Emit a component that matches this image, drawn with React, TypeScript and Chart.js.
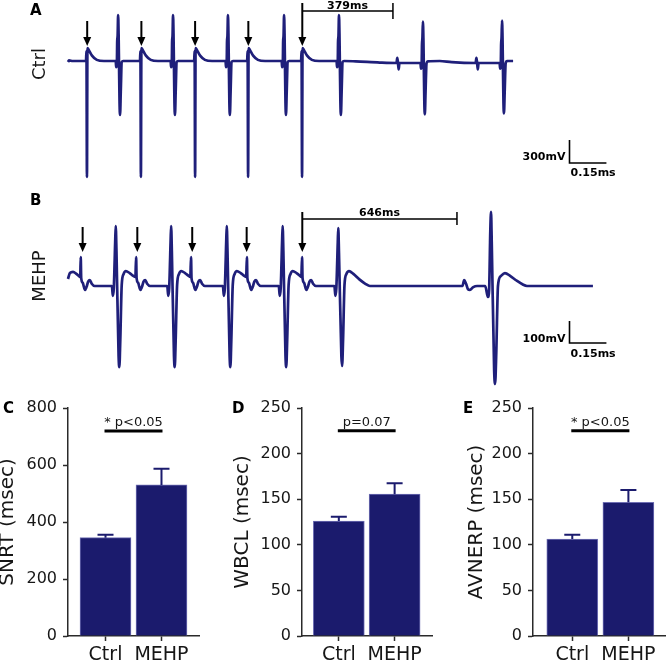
import React, { useEffect, useRef } from 'react';
import { Chart, registerables } from 'chart.js';

Chart.register(...registerables);

type Pt = [number, number];

// ---------- Electrogram traces (time in ms, voltage in mV) ----------
const CTRL_TRACE: Pt[] = [
  [0, -13], [4, 8], [20, 0], [75, 0], [77, 130], [79, -1508], [81, 169], [87, 140], [100, 70], [120, 15], [150, 0],
  [199, 0], [201, -80], [204, -10], [205, 240], [207, 330], [209, 598], [211, 350], [215, -550], [217, -702], [220, -400], [224, -13], [230, 0],
  [300, 0], [302, 130], [304, -1508], [306, 169], [312, 140], [325, 70], [345, 15], [375, 0],
  [428, 0], [430, -80], [433, -10], [434, 240], [436, 330], [438, 598], [440, 350], [444, -550], [446, -702], [449, -400], [453, -13], [459, 0],
  [526, 0], [528, 130], [530, -1508], [532, 169], [538, 140], [551, 70], [571, 15], [601, 0],
  [657, 0], [659, -80], [662, -10], [663, 240], [665, 330], [667, 598], [669, 350], [673, -550], [675, -702], [678, -400], [682, -13], [688, 0],
  [747, 0], [749, 130], [751, -1508], [753, 169], [759, 140], [772, 70], [792, 15], [822, 0],
  [891, 0], [893, -80], [896, -10], [897, 240], [899, 330], [901, 598], [903, 350], [907, -550], [909, -702], [912, -400], [916, -13], [922, 0],
  [972, 0], [974, 130], [976, -1508], [978, 169], [984, 140], [997, 70], [1017, 15], [1047, 0],
  [1120, 0], [1122, -80], [1125, -10], [1126, 240], [1128, 330], [1130, 598], [1132, 350], [1136, -550], [1138, -702], [1141, -400], [1145, -13], [1151, 0],
  [1200, -5], [1300, -20], [1370, -26], [1373, 40], [1376, -26], [1379, -110], [1382, -26], [1460, -26],
  [1470, -26], [1472, -100], [1475, -30], [1476, 200], [1478, 300], [1480, 511], [1482, 300], [1486, -550], [1488, -693], [1491, -400], [1495, -30], [1501, -5], [1550, 0],
  [1600, -15], [1700, -26], [1703, 40], [1706, -26], [1709, -110], [1712, -26], [1790, -26],
  [1800, -26], [1802, -100], [1805, -30], [1806, 200], [1808, 300], [1810, 524], [1812, 300], [1816, -550], [1818, -680], [1821, -400], [1825, -30], [1831, 0], [1856, 0],
];

const MEHP_TRACE: Pt[] = [
  [0, 32], [8, 59], [21, 64], [35, 55], [48, 43],
  [51, 41], [53, 132], [55, 36], [61, 15], [71, -18], [77, -5], [84, 20], [91, 27], [99, 10], [111, 0],
  [183, 0], [187, -45], [191, -9], [197, 210], [199, 273], [202, 160], [211, -320], [214, -369], [218, -245], [224, 5], [232, 55], [241, 68], [257, 59], [272, 46], [281, 41],
  [284, 132], [286, 36], [292, 15], [302, -18], [308, -5], [315, 20], [322, 27], [330, 10], [342, 0],
  [414, 0], [418, -45], [422, -9], [428, 210], [430, 273], [433, 160], [442, -320], [445, -369], [449, -245], [455, 5], [463, 55], [472, 68], [488, 59], [503, 46], [510, 41],
  [513, 132], [515, 36], [521, 15], [531, -18], [537, -5], [544, 20], [551, 27], [559, 10], [571, 0],
  [646, 0], [650, -45], [654, -9], [660, 210], [662, 273], [665, 160], [674, -320], [677, -369], [681, -245], [687, 5], [695, 55], [704, 68], [720, 59], [735, 46], [743, 41],
  [746, 132], [748, 36], [754, 15], [764, -18], [770, -5], [777, 20], [784, 27], [792, 10], [804, 0],
  [879, 0], [883, -45], [887, -9], [893, 210], [895, 273], [898, 160], [907, -320], [910, -369], [914, -245], [920, 5], [928, 55], [937, 68], [953, 59], [968, 46], [973, 41],
  [976, 132], [978, 36], [984, 15], [994, -18], [1000, -5], [1007, 20], [1014, 27], [1022, 10], [1034, 0],
  [1111, 0], [1115, -45], [1119, -9], [1125, 200], [1127, 264], [1130, 150], [1140, -320], [1143, -364], [1147, -245], [1153, 5], [1161, 55], [1172, 68], [1190, 55], [1215, 30], [1240, 10], [1259, 0],
  [1400, 0], [1550, 0],
  [1645, 0], [1652, 27], [1660, 10], [1668, -15], [1676, -18], [1690, -5], [1706, 0],
  [1740, 0], [1751, -50], [1756, -20], [1761, 250], [1764, 337], [1767, 200], [1777, -380], [1781, -446], [1786, -300], [1793, 0], [1805, 45], [1822, 59], [1845, 45], [1870, 25], [1895, 8], [1914, 0],
  [2189, 0],
];

const CTRL_STIM_ARROWS = [80, 306, 530, 752, 977];
const MEHP_STIM_ARROWS = [61, 289, 518, 745, 977];
const CTRL_INTERVAL = [976, 1355];
const MEHP_INTERVAL = [976, 1622];
const CTRL_INTERVAL_LABEL = '379ms';
const MEHP_INTERVAL_LABEL = '646ms';
const CTRL_SCALE_MV = 300;
const MEHP_SCALE_MV = 100;
const CTRL_SCALE_LABEL = '300mV';
const MEHP_SCALE_LABEL = '100mV';
const SCALE_TIME = 154;
const SCALE_TIME_LABEL = '0.15ms';

// ---------- Bar charts ----------
const CATEGORIES = ['Ctrl', 'MEHP'];
const SNRT_MEAN = [345, 530];
const SNRT_ERR = [10, 57];
const WBCL_MEAN = [126, 155.5];
const WBCL_ERR = [4.8, 12];
const AVNERP_MEAN = [106.4, 146.6];
const AVNERP_ERR = [4.6, 13.4];
const SIG_LABELS = ['* p<0.05', 'p=0.07', '* p<0.05'];
const SIG_LEVELS = [719, 225, 225];

const FONT = "'DejaVu Sans', 'Liberation Sans', sans-serif";
const TRACE_COLOR = '#1f1f7a';
const BAR_COLOR = '#1b1b6d';
const BAR_EDGE = '#6f6fb4';
const AXIS = '#2a2a2a';
const TEXT = '#161616';

const T_MIN = -283.6;
const T_MAX = 2493.7;

type TraceLayout = {
  arrowTop: number; arrowTip: number; tickTop: number; bracketY: number; tickBottom: number;
  labelBase: number; scaleX: number; scaleY: number; mvBase: number; msBase: number; rowY: number;
};

function TracePanel(props: {
  top: number; height: number; data: Pt[]; yMin: number; yMax: number; arrows: number[];
  interval: number[]; intervalLabel: string; scaleMv: number; scaleLabel: string;
  letter: string; rowLabel: string; L: TraceLayout;
}) {
  const ref = useRef<HTMLCanvasElement>(null);
  useEffect(() => {
    const { L } = props;
    const overlay = {
      id: 'traceOverlay',
      afterDraw(chart: any) {
        const ctx = chart.ctx as CanvasRenderingContext2D;
        const xs = chart.scales.x;
        const ys = chart.scales.y;
        ctx.save();
        ctx.strokeStyle = '#000';
        ctx.fillStyle = '#000';
        const n = props.arrows.length;
        props.arrows.forEach((t, i) => {
          const px = xs.getPixelForValue(t);
          const top = i === n - 1 ? L.tickTop : L.arrowTop;
          ctx.lineWidth = 2;
          ctx.beginPath();
          ctx.moveTo(px, top);
          ctx.lineTo(px, L.arrowTip - 6);
          ctx.stroke();
          ctx.beginPath();
          ctx.moveTo(px - 4, L.arrowTip - 9);
          ctx.lineTo(px + 4, L.arrowTip - 9);
          ctx.lineTo(px, L.arrowTip);
          ctx.closePath();
          ctx.fill();
        });
        const b1 = xs.getPixelForValue(props.interval[0]);
        const b2 = xs.getPixelForValue(props.interval[1]);
        ctx.lineWidth = 1.5;
        ctx.beginPath();
        ctx.moveTo(b1, L.bracketY);
        ctx.lineTo(b2, L.bracketY);
        ctx.moveTo(b2, L.tickTop);
        ctx.lineTo(b2, L.tickBottom);
        ctx.stroke();
        ctx.font = `bold 11px ${FONT}`;
        ctx.textAlign = 'center';
        ctx.textBaseline = 'alphabetic';
        ctx.fillText(props.intervalLabel, (b1 + b2) / 2, L.labelBase);
        // scale bar
        const h = ys.getPixelForValue(0) - ys.getPixelForValue(props.scaleMv);
        const w = xs.getPixelForValue(SCALE_TIME) - xs.getPixelForValue(0);
        ctx.lineWidth = 1.6;
        ctx.beginPath();
        ctx.moveTo(L.scaleX, L.scaleY - h);
        ctx.lineTo(L.scaleX, L.scaleY);
        ctx.lineTo(L.scaleX + w, L.scaleY);
        ctx.stroke();
        ctx.textAlign = 'right';
        ctx.fillText(props.scaleLabel, L.scaleX - 4, L.mvBase);
        ctx.textAlign = 'left';
        ctx.fillText(SCALE_TIME_LABEL, L.scaleX + 1, L.msBase);
        // panel letter
        ctx.font = `bold 15px ${FONT}`;
        ctx.fillText(props.letter, 30, 15);
        // row label
        ctx.save();
        ctx.translate(40, L.rowY);
        ctx.rotate(-Math.PI / 2);
        ctx.font = `18px ${FONT}`;
        ctx.fillStyle = TEXT;
        ctx.textAlign = 'center';
        ctx.textBaseline = 'middle';
        ctx.fillText(props.rowLabel, 0, 0);
        ctx.restore();
        ctx.restore();
      },
    };
    const chart = new Chart(ref.current as HTMLCanvasElement, {
      type: 'line',
      data: {
        datasets: [
          {
            data: props.data.map(([x, y]) => ({ x, y })),
            borderColor: TRACE_COLOR,
            borderWidth: 2.7,
            pointRadius: 0,
            fill: false,
            cubicInterpolationMode: 'monotone',
          } as any,
        ],
      },
      options: {
        animation: false,
        responsive: false,
        maintainAspectRatio: false,
        events: [],
        layout: { padding: 0 },
        plugins: { legend: { display: false }, tooltip: { enabled: false } },
        scales: {
          x: { type: 'linear', display: false, min: T_MIN, max: T_MAX },
          y: { type: 'linear', display: false, min: props.yMin, max: props.yMax },
        },
      },
      plugins: [overlay],
    });
    return () => chart.destroy();
  }, []);
  return (
    <canvas
      ref={ref}
      width={666}
      height={props.height}
      style={{ position: 'absolute', left: 0, top: props.top, width: 666, height: props.height, display: 'block' }}
    />
  );
}

function BarPanel(props: {
  left: number; width: number; letter: string; letterX: number; title: string; titlePad: number;
  means: number[]; errs: number[]; yMax: number; step: number; sigLabel: string; sigLevel: number;
  axisWidth: number; rightPad: number; xMin: number;
}) {
  const ref = useRef<HTMLCanvasElement>(null);
  useEffect(() => {
    const overlay = {
      id: 'barOverlay',
      afterDatasetsDraw(chart: any) {
        const ctx = chart.ctx as CanvasRenderingContext2D;
        const xs = chart.scales.x;
        const ys = chart.scales.y;
        ctx.save();
        ctx.strokeStyle = BAR_COLOR;
        ctx.lineWidth = 2;
        props.means.forEach((m, i) => {
          const px = xs.getPixelForValue(i);
          const yb = ys.getPixelForValue(m);
          const yt = ys.getPixelForValue(m + props.errs[i]);
          ctx.beginPath();
          ctx.moveTo(px, yb);
          ctx.lineTo(px, yt);
          ctx.moveTo(px - 8, yt);
          ctx.lineTo(px + 8, yt);
          ctx.stroke();
        });
        const sy = ys.getPixelForValue(props.sigLevel);
        const s1 = xs.getPixelForValue(0) - 1;
        const s2 = xs.getPixelForValue(1) + 1;
        ctx.strokeStyle = '#000';
        ctx.lineWidth = 3;
        ctx.beginPath();
        ctx.moveTo(s1, sy);
        ctx.lineTo(s2, sy);
        ctx.stroke();
        ctx.fillStyle = TEXT;
        ctx.font = `13px ${FONT}`;
        ctx.textAlign = 'center';
        ctx.textBaseline = 'alphabetic';
        ctx.fillText(props.sigLabel, (s1 + s2) / 2, sy - 5);
        ctx.fillStyle = '#000';
        ctx.font = `bold 15px ${FONT}`;
        ctx.textAlign = 'left';
        ctx.fillText(props.letter, props.letterX, 43);
        ctx.restore();
      },
    };
    const gridCfg = {
      display: true,
      drawOnChartArea: false,
      drawTicks: true,
      tickLength: 5,
      tickWidth: 1.5,
      tickColor: AXIS,
      offset: false,
    };
    const chart = new Chart(ref.current as HTMLCanvasElement, {
      type: 'bar',
      data: {
        datasets: [
          {
            data: props.means.map((m, i) => ({ x: i, y: m })),
            backgroundColor: BAR_COLOR,
            borderColor: BAR_EDGE,
            borderWidth: 1,
            barThickness: 51,
          } as any,
        ],
      },
      options: {
        animation: false,
        responsive: false,
        maintainAspectRatio: false,
        events: [],
        layout: { padding: { top: 38, right: props.rightPad, left: 0, bottom: 0 } },
        plugins: { legend: { display: false }, tooltip: { enabled: false } },
        scales: {
          x: {
            type: 'linear',
            min: props.xMin,
            max: 1.67,
            offset: false,
            grid: gridCfg,
            border: { display: true, color: AXIS, width: 1.5 },
            afterBuildTicks: (s: any) => {
              s.ticks = [{ value: 0 }, { value: 1 }];
            },
            afterFit: (s: any) => {
              s.height = 27;
            },
            ticks: {
              callback: (v: any) => CATEGORIES[v] ?? '',
              font: { size: 19, family: FONT },
              color: TEXT,
              padding: 3,
              maxRotation: 0,
              autoSkip: false,
            },
          },
          y: {
            type: 'linear',
            min: 0,
            max: props.yMax,
            grid: gridCfg,
            border: { display: true, color: AXIS, width: 1.5 },
            ticks: { stepSize: props.step, font: { size: 16, family: FONT }, color: TEXT, padding: 6 },
            title: {
              display: true,
              text: props.title,
              font: { size: 20, family: FONT, lineHeight: 0.75 },
              color: TEXT,
              padding: { top: props.titlePad, bottom: 0 },
            },
            afterFit: (s: any) => {
              s.width = props.axisWidth;
            },
          },
        } as any,
      },
      plugins: [overlay],
    });
    return () => chart.destroy();
  }, []);
  return (
    <canvas
      ref={ref}
      width={props.width}
      height={293}
      style={{ position: 'absolute', left: props.left, top: 370, width: props.width, height: 293, display: 'block' }}
    />
  );
}

export default function App() {
  return (
    <div style={{ position: 'absolute', left: 0, top: 0, width: 666, height: 663, background: '#fff', overflow: 'hidden' }}>
      <TracePanel
        top={0}
        height={190}
        data={CTRL_TRACE}
        yMin={-1677}
        yMax={793}
        arrows={CTRL_STIM_ARROWS}
        interval={CTRL_INTERVAL}
        intervalLabel={CTRL_INTERVAL_LABEL}
        scaleMv={CTRL_SCALE_MV}
        scaleLabel={CTRL_SCALE_LABEL}
        letter="A"
        rowLabel="Ctrl"
        L={{ arrowTop: 21, arrowTip: 46, tickTop: 3, bracketY: 11, tickBottom: 19, labelBase: 9, scaleX: 569.5, scaleY: 163, mvBase: 160, msBase: 176, rowY: 64 }}
      />
      <TracePanel
        top={190}
        height={210}
        data={MEHP_TRACE}
        yMin={-518.7}
        yMax={436.8}
        arrows={MEHP_STIM_ARROWS}
        interval={MEHP_INTERVAL}
        intervalLabel={MEHP_INTERVAL_LABEL}
        scaleMv={MEHP_SCALE_MV}
        scaleLabel={MEHP_SCALE_LABEL}
        letter="B"
        rowLabel="MEHP"
        L={{ arrowTop: 37, arrowTip: 62, tickTop: 22, bracketY: 29, tickBottom: 35, labelBase: 26, scaleX: 569.5, scaleY: 153, mvBase: 151.5, msBase: 167, rowY: 86 }}
      />
      <BarPanel left={0} width={220} letter="C" letterX={3} title="SNRT (msec)" titlePad={0}
        means={SNRT_MEAN} errs={SNRT_ERR} yMax={800} step={200} sigLabel={SIG_LABELS[0]} sigLevel={SIG_LEVELS[0]}
        axisWidth={68} rightPad={21} xMin={-0.67} />
      <BarPanel left={220} width={223} letter="D" letterX={12} title="WBCL (msec)" titlePad={15.5}
        means={WBCL_MEAN} errs={WBCL_ERR} yMax={250} step={50} sigLabel={SIG_LABELS[1]} sigLevel={SIG_LEVELS[1]}
        axisWidth={82} rightPad={11} xMin={-0.66} />
      <BarPanel left={443} width={223} letter="E" letterX={20} title="AVNERP (msec)" titlePad={26.5}
        means={AVNERP_MEAN} errs={AVNERP_ERR} yMax={250} step={50} sigLabel={SIG_LABELS[2]} sigLevel={SIG_LEVELS[2]}
        axisWidth={90} rightPad={0} xMin={-0.7} />
    </div>
  );
}
